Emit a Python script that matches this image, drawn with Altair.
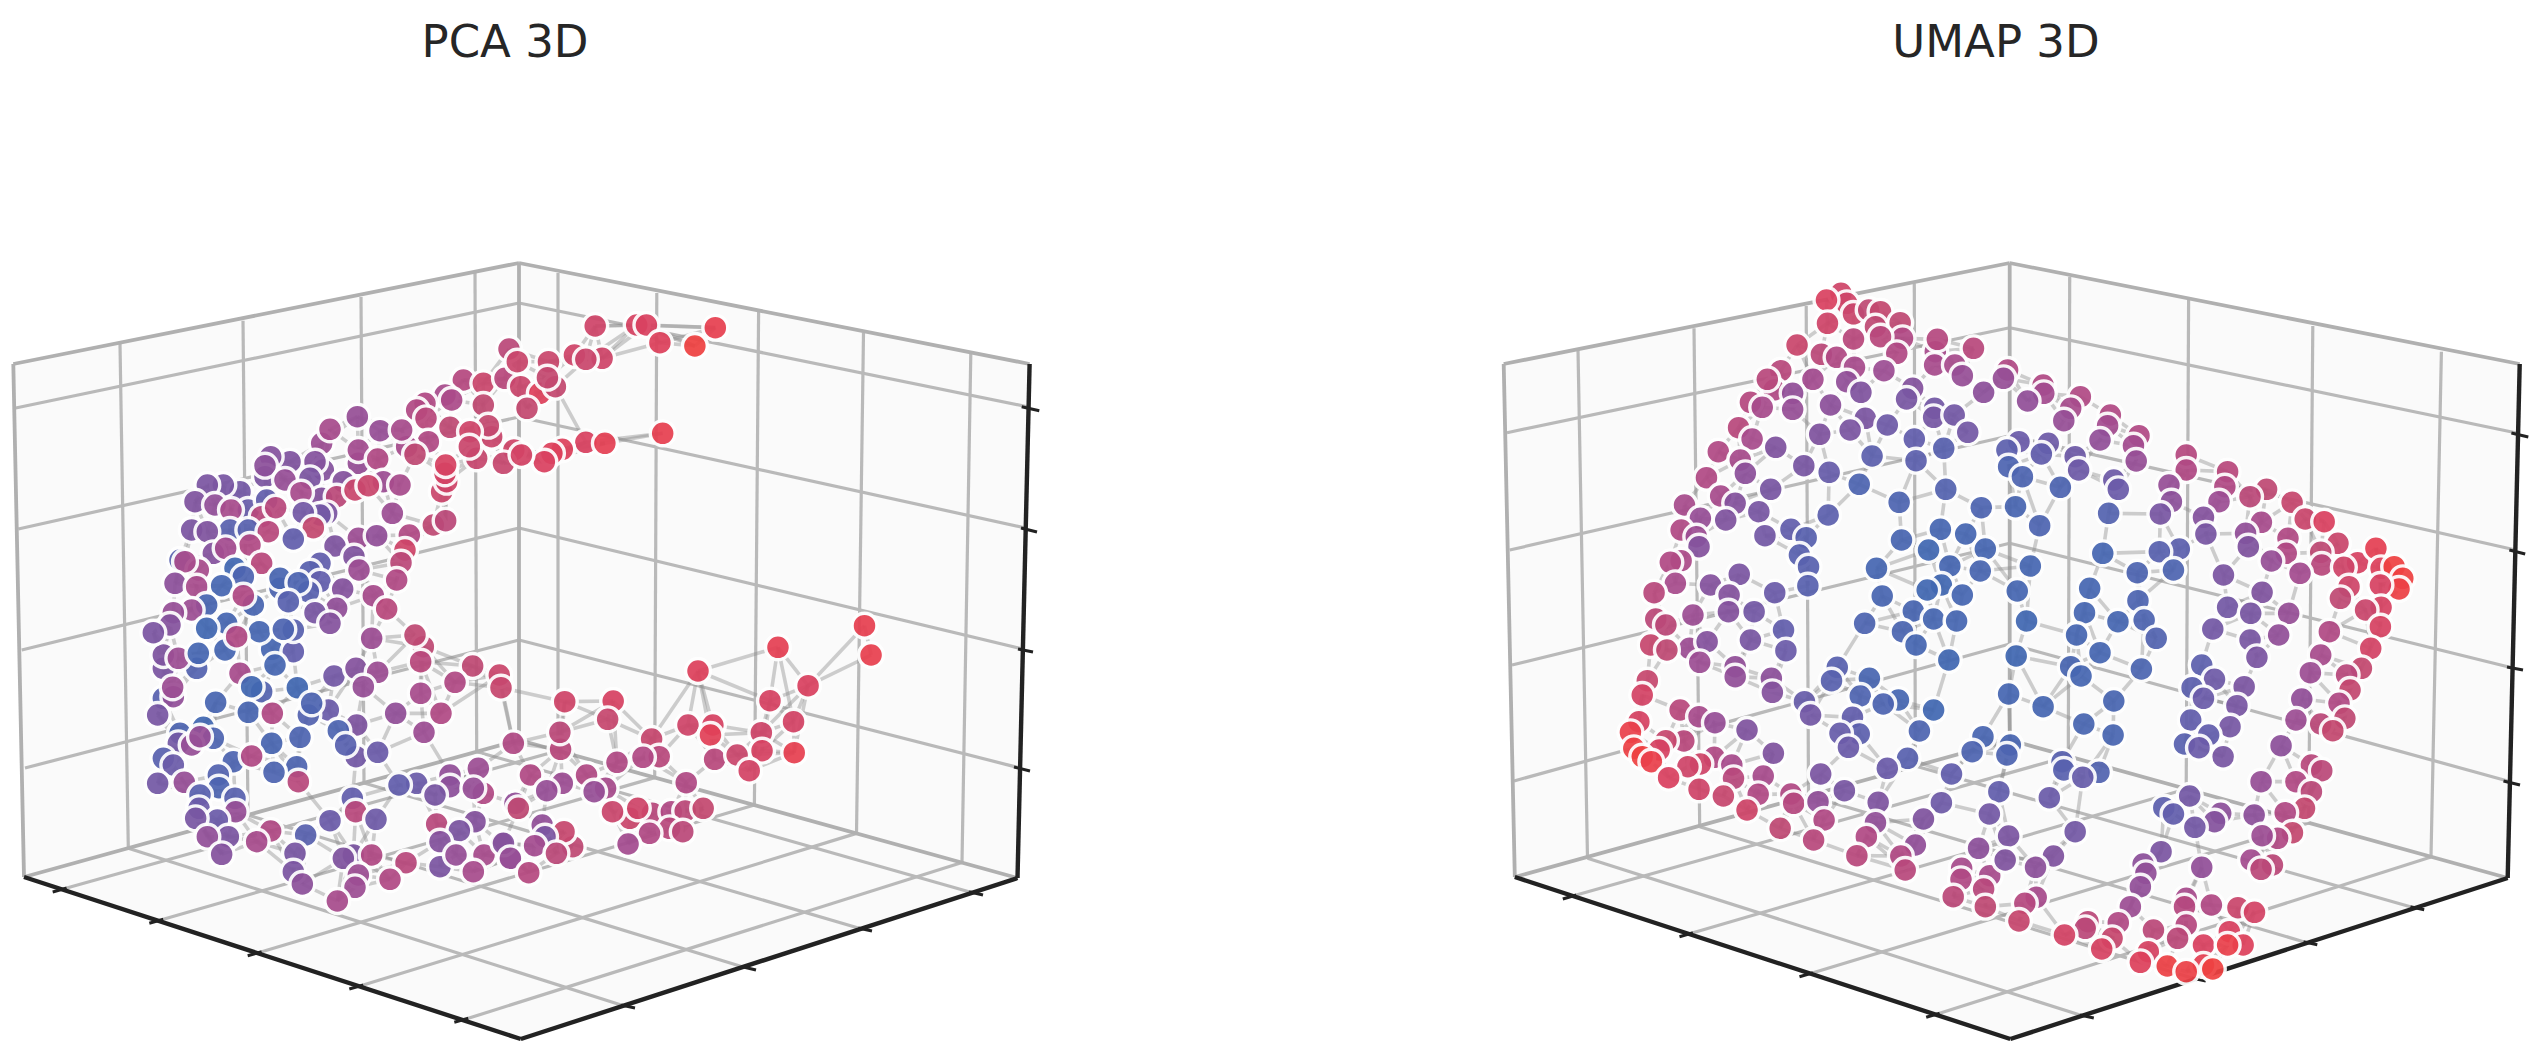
import altair as alt
import numpy as np
import pandas as pd

# Values: (x, y, colour value) in crop units of each read-out window.
pca_c1 = [(1390,420,.58),(1450,430,.72),(1527,327,.62),(1515,415,.6),(1335,465,.5),(1355,480,.52),(1275,490,.55),(1250,510,.55),(1278,535,.6),(1350,562,.65),(1450,495,.66),(1475,590,.72),(1465,557,.68),(1410,575,.75),(1430,655,.7),(1408,620,.72),
(1072,530,.42),(965,610,.45),(990,568,.5),(1140,572,.42),(1285,605,.55),(1220,620,.5),(1205,570,.5),(1245,643,.65),(1075,670,.42),(1075,630,.48),(1133,657,.55),
(970,690,.35),(945,665,.35),(870,665,.33),(812,650,.35),(795,710,.3),(795,677,.38),(930,715,.3),(855,720,.42),(1030,725,.35),(965,775,.35),(903,758,.5),(1010,770,.62),(1065,750,.72),(1150,725,.45),(1105,737,.72),(1200,735,.5),
(1325,755,.72),(1340,725,.75),(1335,700,.78),(1337,675,.8),
(720,755,.25),(670,735,.28),(622,735,.3),(585,785,.33),(645,795,.4),(745,810,.18),(693,810,.5),(800,780,.15),(785,830,.6),(827,803,.6),(980,820,.3),(960,825,.25),(910,818,.25),(940,863,.68),(1177,820,.45),(1300,855,.65),(1337,842,.62),
(575,870,.3),(690,870,.1),(622,875,.33),(745,870,.1),(805,875,.6),(880,897,.15),(1075,895,.45),(1228,885,.55),(1130,887,.4),(1005,918,.32),
(640,940,.35),(750,915,.55),(677,925,.48),(540,960,.1),(595,990,.5),(555,965,.5),(1215,930,.75),(1062,950,.33),(785,970,.6),(960,970,.15),(1203,968,.62),(705,985,.0),(930,995,.1),
(1077,990,.45),(1190,1020,.55),(730,1010,.05),(840,1045,.05),(840,1015,.03),(525,1030,.38),(590,1040,.5),(665,1037,.02),(960,1025,.15),(925,1055,.1),(895,1028,.05),
(1028,1047,.35),(760,1095,.03),(730,1067,.55),(1120,1067,.5),(865,1085,.1),(1010,1105,.4),(945,1118,.28),(1160,1107,.6),(1245,1185,.65),(620,1095,.03),(575,1110,.45),(520,1118,.42),(990,1150,.35),(680,1150,.02),(620,1165,.0),(778,1175,.02),(880,1170,.1),(850,1168,.05),(510,1155,.35),(460,1178,.3),(710,1190,.55),(1115,1195,.45)]

pca_c2 = [(275,258,.75),(395,255,.8),(423,255,.82),(462,308,.85),(622,263,.92),(563,318,1.0),(215,345,.75),(295,355,.75),(248,358,.72),(140,365,.72),(50,365,.72),(60,440,.72),(115,460,.85),(160,440,.68),(137,413,.68),(78,505,.68),(470,580,.92),(248,607,.82),(303,610,.9),(180,628,.85),(150,640,.85),(128,665,.82),(40,630,.75),(10,670,.7),(62,645,.78),(1053,1157,.92)]

pca_c3 = [(490,85,.3),(590,85,.08),(490,45,.32),(535,55,.45),(595,40,.02),(675,30,.02),(815,28,.02),(880,35,.15),(825,75,.02),(720,100,.5),(1270,20,.65),(1262,65,.6),(1418,78,.65),(1498,105,.72),(1503,143,.7),(1365,127,.55),(1002,108,.25),(1068,85,.35),(1133,97,.45),(1090,140,.42),(785,155,.08),(755,140,.0),(892,143,.0),(490,175,.1),(520,170,.4),(518,142,.45),(647,187,.03),(1262,160,.5),(1187,220,.4),(1323,220,.55),(473,225,.28),(745,217,.03),(817,220,.55),(985,210,.2),(925,225,.08),(935,190,.05),(1070,255,.32),(1015,272,.05),(1272,277,.45),(610,262,.0),(540,280,.05),(535,310,.25),(640,295,.05),(575,315,.42),(600,290,.42),(900,292,.05),(815,310,.03),(1068,350,.25),(1037,315,.1),(1133,337,.2),(1540,310,.55),(490,355,.1),(520,375,.2),(700,365,.05),(755,348,.55),(890,380,.05),(822,397,.05),(895,425,.6),(473,430,.25),(553,427,.42),(655,405,.08),(657,443,.05),(1250,430,.2),(1197,435,.15),(1350,405,.4),(1435,385,.45),(1350,440,.38),(1450,460,.55),(1420,445,.42),(1305,465,.28),(600,465,.1),(705,475,.1),(1057,475,.15),(1067,515,.6),(597,505,.2),(707,515,.42),(652,540,.2),(587,535,.28),(1545,490,.4),(1555,505,.65),(990,542,.2),(1128,538,.22),(1310,552,.6),(1425,545,.35),(1378,572,.3),(812,573,.55),(917,585,.1),(685,590,.3),(622,590,.4),(770,605,.5),(885,640,.28),(1320,605,.35),(665,643,.35),(1060,645,.3),(1030,655,.33),(1115,645,.55),(1218,668,.6),(1505,610,.42),(1320,680,.3),(1368,645,.42),(1452,645,.5),(1530,655,.42),(880,695,.3),(1075,705,.45),(1420,695,.5),(907,732,.38),(1065,742,.45),(1170,718,.55),(1012,783,.5)]

pca_c4 = [(803,22,.9),(1072,45,.93),(572,93,.85),(890,137,.82),(780,182,.8),(187,185,.75),(327,183,.8),(311,238,.7),(175,328,.6),(173,277,.62),(615,255,.8),(543,255,.75),(608,285,.88),(848,245,.78),(755,278,.75),(757,332,.8),(850,338,.92),(438,297,.7),(460,350,.6),(413,352,.55),(338,367,.55),(620,358,.6),(685,345,.72),(720,392,.78),(88,405,.55),(250,405,.55),(180,430,.45),(135,452,.42),(305,445,.5),(272,455,.42),(538,428,.55),(375,535,.72),(325,515,.72),(440,520,.6),(398,505,.75),(495,515,.55),(535,513,.62),(587,505,.68),(122,555,.4),(210,620,.65),(185,575,.7),(490,565,.6),(432,580,.55),(528,575,.62),(10,610,.35),(130,590,.3),(100,617,.48),(370,612,.48),(163,640,.62),(30,655,.42),(83,698,.58)]

umap_c5 = [(1068,160,.75),(1085,190,.75),(1025,180,.82),(1105,222,.72),(1150,210,.65),(1185,215,.68),(1170,260,.65),(1243,248,.65),(1028,250,.75),(1250,295,.55),(1185,290,.6),(1105,297,.6),(938,315,.72),(1233,340,.55),(1347,335,.5),(1353,298,.58),(1345,375,.5),(1010,343,.62),(1055,352,.55),(890,392,.6),(1108,382,.5),(1460,325,.6),(1405,375,.5),(1195,392,.45),(1427,407,.42),(870,450,.55),(850,418,.6),(985,418,.48),(925,460,.4),(1085,425,.4),(1127,457,.33),(1280,445,.35),(1262,477,.28),(1490,457,.38),(800,487,.58),(835,502,.5),(925,508,.42),(1037,495,.38),(1345,505,.25),(1342,532,.27),(1403,525,.25),(1140,535,.3),(1205,555,.22),(1095,570,.3),(765,563,.6),(805,597,.5),(1005,583,.33),(1443,577,.25),(875,622,.33),(1285,597,.15),(1372,625,.1),(705,635,.55),(770,660,.5),(1160,648,.12),(1290,662,.12),(785,700,.38),(958,677,.28),(1033,697,.18),(670,713,.55),(1122,733,.05),(860,748,.28),(1378,748,.08),(712,768,.5),(755,790,.35),(605,795,.5),(1240,787,.05),(1483,803,.05),(825,815,.28),(652,835,.42),(727,840,.33),(1030,825,.12),(595,870,.55),(640,890,.45),(648,920,.35),(920,868,.15),(843,887,.25),(965,893,.1),(1362,868,.02),(1437,882,.02),(1247,900,.03),(1327,930,.0),(1495,927,.02),(945,945,.1),(972,980,.1),(595,962,.52),(563,967,.55),(1173,985,.02),(1390,978,.02),(767,1003,.3),(1480,993,.03),(578,1030,.5),(970,1037,.1),(682,1035,.35),(737,1065,.35),(1365,1035,.0),(1323,1050,.0),(515,1058,.6),(872,1058,.2),(1190,1068,.03),(1427,1065,.02),(1282,1113,.03),(735,1115,.35),(811,1115,.25),(630,1125,.45),(1342,1137,.02),(1138,1150,.05),(1410,1143,.02),(520,1137,.62),(550,1155,.62),(898,1170,.15),(1250,1175,.04)]

umap_c7 = [(505,15,.7),(620,25,.45),(553,30,.65),(672,5,.35),(650,67,.45),(800,0,.28),(905,32,.2),(1057,82,.1),(1040,122,.1),(1152,115,.03),(1290,15,.02),(1387,60,.0),(755,80,.4),(755,110,.4),(862,115,.38),(865,157,.35),(495,122,.7),(480,165,.78),(1125,168,.06),(1238,180,.02),(1193,192,.05),(1342,210,.0),(960,185,.18),(978,225,.25),(592,210,.6),(648,230,.5),(695,248,.42),(790,270,.33),(1102,232,.15),(470,245,.8),(1122,282,.12),(1065,280,.18),(1090,322,.2),(1300,273,.05),(445,277,.95),(1488,290,.03),(1456,335,.05),(603,303,.6),(550,302,.7),(868,340,.33),(530,330,.8),(455,325,.98),(480,350,1.0),(507,365,.95),(1265,355,.1),(693,352,.55),(745,375,.5),(652,372,.75),(615,380,.75),(1205,385,.2),(1008,402,.3),(750,415,.6),(838,408,.5),(558,413,.82),(1395,402,.15),(920,462,.55),(928,490,.58),(1078,452,.28),(648,448,.75),(1535,455,.15),(823,463,.55),(720,468,.7),(1000,485,.4),(1178,487,.32),(1365,488,.22),(790,510,.75),(1018,540,.55),(1507,522,.25),(1170,548,.4),(1312,537,.33),(888,565,.65),(1143,590,.55),(987,600,.6),(1288,615,.4),(1475,625,.38),(1115,647,.6),(1245,648,.55),(1258,690,.6),(1425,685,.5),(1423,718,.55),(1508,707,.5),(1490,747,.6),(1400,770,.62),(1495,800,.65)]

umap_c6 = [(22,390,.55),(10,415,.42),(125,435,.55),(127,460,.48),(233,470,.55),(80,483,.4),(205,505,.5),(185,542,.42),(320,525,.55),(312,557,.48),(290,600,.4),(403,587,.55),(387,617,.48),(395,663,.42),(55,605,.2),(20,630,.12),(140,610,.22),(120,642,.15),(218,650,.22),(228,690,.22),(25,680,.05),(65,710,.05),(175,742,.05),(330,720,.22),(343,748,.2),(540,645,.58),(540,690,.55),(490,735,.42),(497,785,.38),(465,822,.28),(660,695,.6),(652,740,.55),(635,785,.45),(773,748,.65),(725,770,.62),(847,787,.7),(885,837,.72),(940,845,.82),(45,800,.03),(115,857,.05),(315,820,.08),(590,832,.35),(597,882,.28),(758,847,.5),(712,880,.4),(720,920,.33),(835,895,.55),(830,940,.55),(980,910,.72),(930,937,.65),(933,975,.6),(787,963,.42),(870,1000,.48),(1037,968,.8),(997,982,.75),(1090,925,.9),(1105,985,.85),(1143,980,1.0),(1168,1015,1.0),(1157,1047,.98),(520,927,.12),(462,935,.1),(298,940,.02),(503,990,.05),(398,998,.05),(88,978,.02),(648,1005,.3),(1012,1040,.75),(987,1075,.65),(1103,1035,.8),(50,1053,.02),(260,1045,.02),(760,1057,.33),(400,1082,.05),(660,1102,.25),(418,1140,.05),(1105,1102,.8),(1060,1110,.72),(727,1120,.28),(837,1120,.42),(245,1118,.02),(342,1145,.02),(77,1143,.0),(617,1167,.25),(955,1175,.55),(222,1185,.02),(453,1195,.07),(725,1200,.28),(808,1185,.4),(1103,1160,.8)]

umap_c8 = [(47,48,.0),(290,38,.02),(205,80,.03),(235,108,.02),(410,87,.04),(585,75,.12),(745,52,.3),(930,45,.5),(1075,25,.78),(1048,85,.68),(622,118,.22),(1005,105,.6),(900,98,.45),(708,140,.3),(25,162,.02),(125,200,.02),(557,143,.12),(590,175,.2),(330,183,.03),(687,197,.28),(875,177,.4),(1015,150,.68),(983,190,.55),(243,252,.03),(328,285,.03),(553,240,.15),(667,260,.27),(1000,235,.65),(858,240,.45),(930,252,.62),(965,272,.68),(605,285,.15),(535,312,.1),(577,323,.2),(815,317,.38),(647,350,.28),(30,315,.03),(20,345,.05),(180,365,.1),(903,375,.6),(185,390,.1),(287,397,.07),(240,412,.18),(933,392,.62),(757,425,.42),(143,473,.2),(858,425,.55),(903,455,.62),(550,468,.25),(475,503,.12),(503,522,.15),(640,520,.38),(622,545,.35),(737,525,.38),(883,505,.68),(827,518,.55),(565,562,.25),(848,578,.68),(805,595,.55),(760,587,.45),(25,588,.3),(218,575,.25),(467,635,.3),(415,672,.38),(423,700,.4),(155,648,.33),(15,660,.33),(103,682,.38),(585,682,.4),(728,660,.48),(790,675,.62),(757,688,.62),(407,740,.4),(105,772,.5),(72,790,.58),(378,800,.45),(540,775,.5),(535,800,.58),(613,795,.55),(690,803,.72),(738,817,.78),(55,843,.7),(255,845,.62),(247,865,.62),(343,848,.55),(445,870,.62),(540,855,.58),(515,895,.62),(187,885,.78),(665,875,.82),(325,895,.7),(295,927,.8),(705,915,.85),(590,915,.82),(660,915,.95),(430,935,.8),(407,967,.85),(485,978,.98),(590,975,.9),(540,995,.97),(617,987,1.0)]

# Read-out windows: left, top, horizontal units per pixel
win = {"c1":(0,240,1/3),"c2":(500,240,540/1560),"c3":(0,640,1/3),"c4":(500,640,540/1560),
       "c5":(1480,240,530/1568),"c6":(2000,240,538/1560),"c7":(1480,640,530/1568),"c8":(2000,640,538/1560)}

# Box outlines, grid segments and ticks (x, y, x2, y2)
pca_grid = [(120,344,128.3,848.3),(243,320.7,248,815),(361,297,364,783),(475,273,476.7,751.7),
 (15.7,408,519,303),(18.3,529,519,417),(21.7,650,519,528),(25,768,519,640),
 (519,303,1028.6,407),(519,417,1025.7,528),(519,528,1023,649),(519,640,1020,768),
 (558,273,558,750.8),(656.8,293,654.7,777.6),(758.6,312,754.4,805),(863.5,332.7,856.5,833.4),(970.8,354,962,862.5),
 (66.7,888,558,750.8),(163.3,919.3,654.7,777.6),(261.7,951.7,754.4,805),(363.3,985,856.5,833.4),(468.3,1018.3,962,862.5),
 (621.2,1005,128.3,848.3),(742.3,966.7,248,815),(858.3,928,364,783),(969,891.7,476.7,751.7)]
pca_pane_edges = [(13.3,364,519,263),(519,263,1029.6,364),(13.3,364,24,877),(519,263,519,740),(24,877,519,740),(519,740,1017.5,878)]
pca_spines = [(24,877,520.8,1039),(520.8,1039,1017.5,878),(1029.6,364,1017.5,878)]
pca_ticks = [(66.7,888,52.7,892),(163.3,919.3,149.3,923.3),(261.7,951.7,247.7,955.7),(363.3,985,349.3,989),(468.3,1018.3,454.3,1022.3),
 (621.2,1005,635,1008),(742.3,966.7,756,970),(858.3,928,872,931),(969,891.7,983,895),
 (1021.7,406.7,1039.3,410.7),(1021,528,1037,532),(1018,649,1033,652),(1014,767,1030,771)]
pca_pane = [(13.3,364,364),(24,361.9,877),(520.8,263,1039),(1017.5,361.6,878),(1029.6,364,364)]

umap_grid = [(1578,350,1587.5,858.3),(1694,328.3,1699.7,826.7),(1806.2,306,1808.5,795.8),(1914.3,283.3,1915.3,766),
 (1507,432.7,2009.7,327.7),(1509.7,550,2009.7,435.7),(1512,665,2009.7,543.3),(1514,781,2009.7,644),
 (2009.7,327.7,2518,433.3),(2009.7,435.7,2515.6,550),(2009.7,543.3,2513.9,668.3),(2009.7,644,2510.4,781.7),
 (2069.7,276.7,2068.3,756.3),(2188.6,300,2186.2,789),(2312.8,326,2308.7,823),(2441.4,351.7,2431,857),
 (1576.3,895,2068.3,756.3),(1693,932.7,2186.2,789),(1813,972.7,2308.7,823),(1939.7,1013.3,2431,857),
 (2080,1015,1587.5,858.3),(2192,978,1699.7,826.7),(2303.5,941.7,1808.5,795.8),(2410.4,906.7,1915.3,766)]
umap_pane_edges = [(1503.7,364,2009.7,263),(2009.7,263,2519.7,364),(1503.7,364,1514.8,877),(2009.7,263,2009.7,740),(1514.8,877,2009.7,740),(2009.7,740,2507.7,878)]
umap_spines = [(1514.8,877,2010.3,1039),(2010.3,1039,2507.7,878),(2519.7,364,2507.7,878)]
umap_ticks = [(1576.3,895,1562.8,899),(1693,932.7,1679.5,936.7),(1813,972.7,1799.5,976.7),(1939.7,1013.3,1926.2,1017.3),
 (2080,1015,2093.8,1018),(2192,978,2205.8,981),(2303.5,941.7,2317.3,944.7),(2410.4,906.7,2424.2,909.7),
 (2511.4,433,2528.3,437),(2509.4,550,2525.2,554),(2507,667,2523,670),(2503.5,781,2520,785)]
umap_pane = [(1503.7,364,364),(1514.8,361.9,877),(2010.3,263,1039),(2507.7,361.6,878),(2519.7,364,364)]

titles = ["PCA 3D", "UMAP 3D"]
cmap_stops = [0, .33, .66, 1]
cmap_colors = ["#4268b2", "#80549f", "#c04a72", "#ef4242"]


def points(parts):
    rows = []
    for name, pts in parts:
        x0, y0, f = win[name]
        rows += [(x0 + a * f, y0 + b / 3, t) for a, b, t in pts]
    return pd.DataFrame(rows, columns=["x", "y", "t"])


def neighbours(df, k, longest=85):
    xy = df[["x", "y"]].to_numpy()
    seen = set()
    for i, p in enumerate(xy):
        d = np.hypot(*(xy - p).T)
        for j in np.argsort(d)[1:k + 1]:
            if d[j] <= longest:
                seen.add((min(i, int(j)), max(i, int(j))))
    return pd.DataFrame([(*xy[i], *xy[j]) for i, j in sorted(seen)], columns=["x", "y", "x2", "y2"])


def seg(rows):
    return pd.DataFrame(rows, columns=["x", "y", "x2", "y2"])


def panel(title, dx, x0, w, pts, k, grid, edges, spines, ticks, pane):
    y_top, y_bot = 120, 1050
    X = alt.X("x:Q", scale=alt.Scale(domain=[x0, x0 + w], nice=False, zero=False), axis=None)
    Y = alt.Y("y:Q", scale=alt.Scale(domain=[y_bot, y_top], nice=False, zero=False), axis=None)
    enc = dict(x=X, y=Y, x2="x2:Q", y2="y2:Q")
    def rule(rows, **kw):
        return alt.Chart(seg(rows)).mark_rule(**kw).encode(**enc)
    p = pd.DataFrame(pane, columns=["x", "y", "y2"])
    layers = [
        alt.Chart(p).mark_area(color="#fafafa", opacity=1).encode(x=X, y=Y, y2="y2:Q"),
        rule(grid, color="#b9b9b9", strokeWidth=3.2),
        rule(edges, color="#b0b0b0", strokeWidth=3.8),
        rule(spines, color="#222222", strokeWidth=4.4),
        rule(ticks, color="#222222", strokeWidth=3),
        alt.Chart(neighbours(pts, k)).mark_rule(color="#8c8c8c", strokeWidth=3.6, opacity=0.42).encode(**enc),
        alt.Chart(pts).mark_point(filled=True, size=620, stroke="white", strokeWidth=3.4, opacity=0.93).encode(
            x=X, y=Y,
            color=alt.Color("t:Q", scale=alt.Scale(domain=cmap_stops, range=cmap_colors), legend=None),
        ),
    ]
    return alt.layer(*layers).properties(
        width=w, height=y_bot - y_top,
        title=alt.TitleParams(text=title, fontSize=45, font="DejaVu Sans", fontWeight="normal",
                              color="#262626", anchor="middle", dx=dx, offset=54),
    )


pca = points([("c3", pca_c3), ("c4", pca_c4), ("c1", pca_c1), ("c2", pca_c2)])
umap = points([("c5", umap_c5), ("c7", umap_c7), ("c6", umap_c6), ("c8", umap_c8)])

left = panel(titles[0], -23, 8, 1040, pca, 5, pca_grid, pca_pane_edges, pca_spines, pca_ticks, pca_pane)
right = panel(titles[1], -14, 1490, 1040, umap, 4, umap_grid, umap_pane_edges, umap_spines, umap_ticks, umap_pane)

chart = alt.hconcat(left, right, spacing=442).properties(
    padding={"left": 0, "top": 13, "right": 0, "bottom": 0}, background="white"
).configure_view(stroke=None)

chart.save("out.html", embed_options={"renderer": "svg", "actions": False})
